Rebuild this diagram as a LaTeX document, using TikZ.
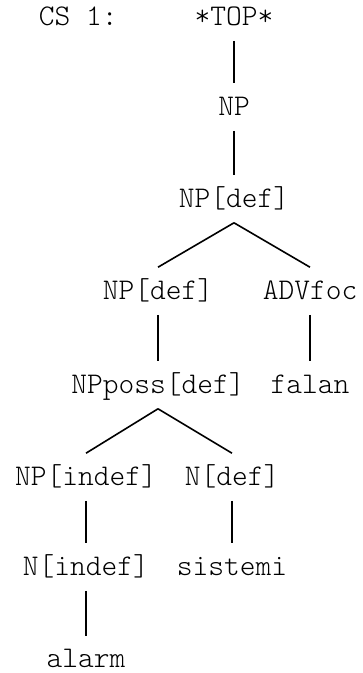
\documentclass[tikz,border=0pt]{standalone}
\usepackage{tikz}
\usetikzlibrary{positioning}
\tikzset{
  every picture/.style={line width=1.6pt},
  cat/.style={font=\ttfamily\fontseries{l}\fontsize{30}{32}\selectfont,inner sep=0pt,
    text height=31pt,text depth=15pt,anchor=center},
  br/.style={draw=black,line cap=butt},
}
\begin{document}
\begin{tikzpicture}[x=1pt,y=-1pt]
  \useasboundingbox (0,0) rectangle (362,673);
  % label
  \node[cat,anchor=west] (cs) at (38,17) {CS 1:};
  % spine
  \node[cat] (top)   at (234,17)  {*TOP*};
  \node[cat] (np)    at (234,107) {NP};
  \node[cat] (npdef) at (234,199) {NP[def]};
  % level 4
  \node[cat] (npd)   at (158,291) {NP[def]};
  \node[cat] (adv)   at (310,291) {ADVfoc};
  \node[cat] (poss)  at (158,385) {NPposs[def]};
  \node[cat] (falan) at (310,385) {falan};
  % possessive
  \node[cat] (npind) at (86,477)  {NP[indef]};
  \node[cat] (ndef)  at (232,477) {N[def]};
  \node[cat] (nind)  at (86,567)  {N[indef]};
  \node[cat] (sis)   at (232,567) {sistemi};
  \node[cat,text depth=4pt] (alarm) at (86,654) {alarm};
  % branches
  \draw[br] (top.south) -- (np.north);
  \draw[br] (np.south) -- (npdef.north);
  \draw[br] (npdef.south) -- (npd.north);
  \draw[br] (npdef.south) -- (adv.north);
  \draw[br] (npd.south) -- (poss.north);
  \draw[br] (adv.south) -- (falan.north);
  \draw[br] (poss.south) -- (npind.north);
  \draw[br] (poss.south) -- (ndef.north);
  \draw[br] (npind.south) -- (nind.north);
  \draw[br] (ndef.south) -- (sis.north);
  \draw[br] (nind.south) -- (alarm.north);
\end{tikzpicture}
\end{document}
